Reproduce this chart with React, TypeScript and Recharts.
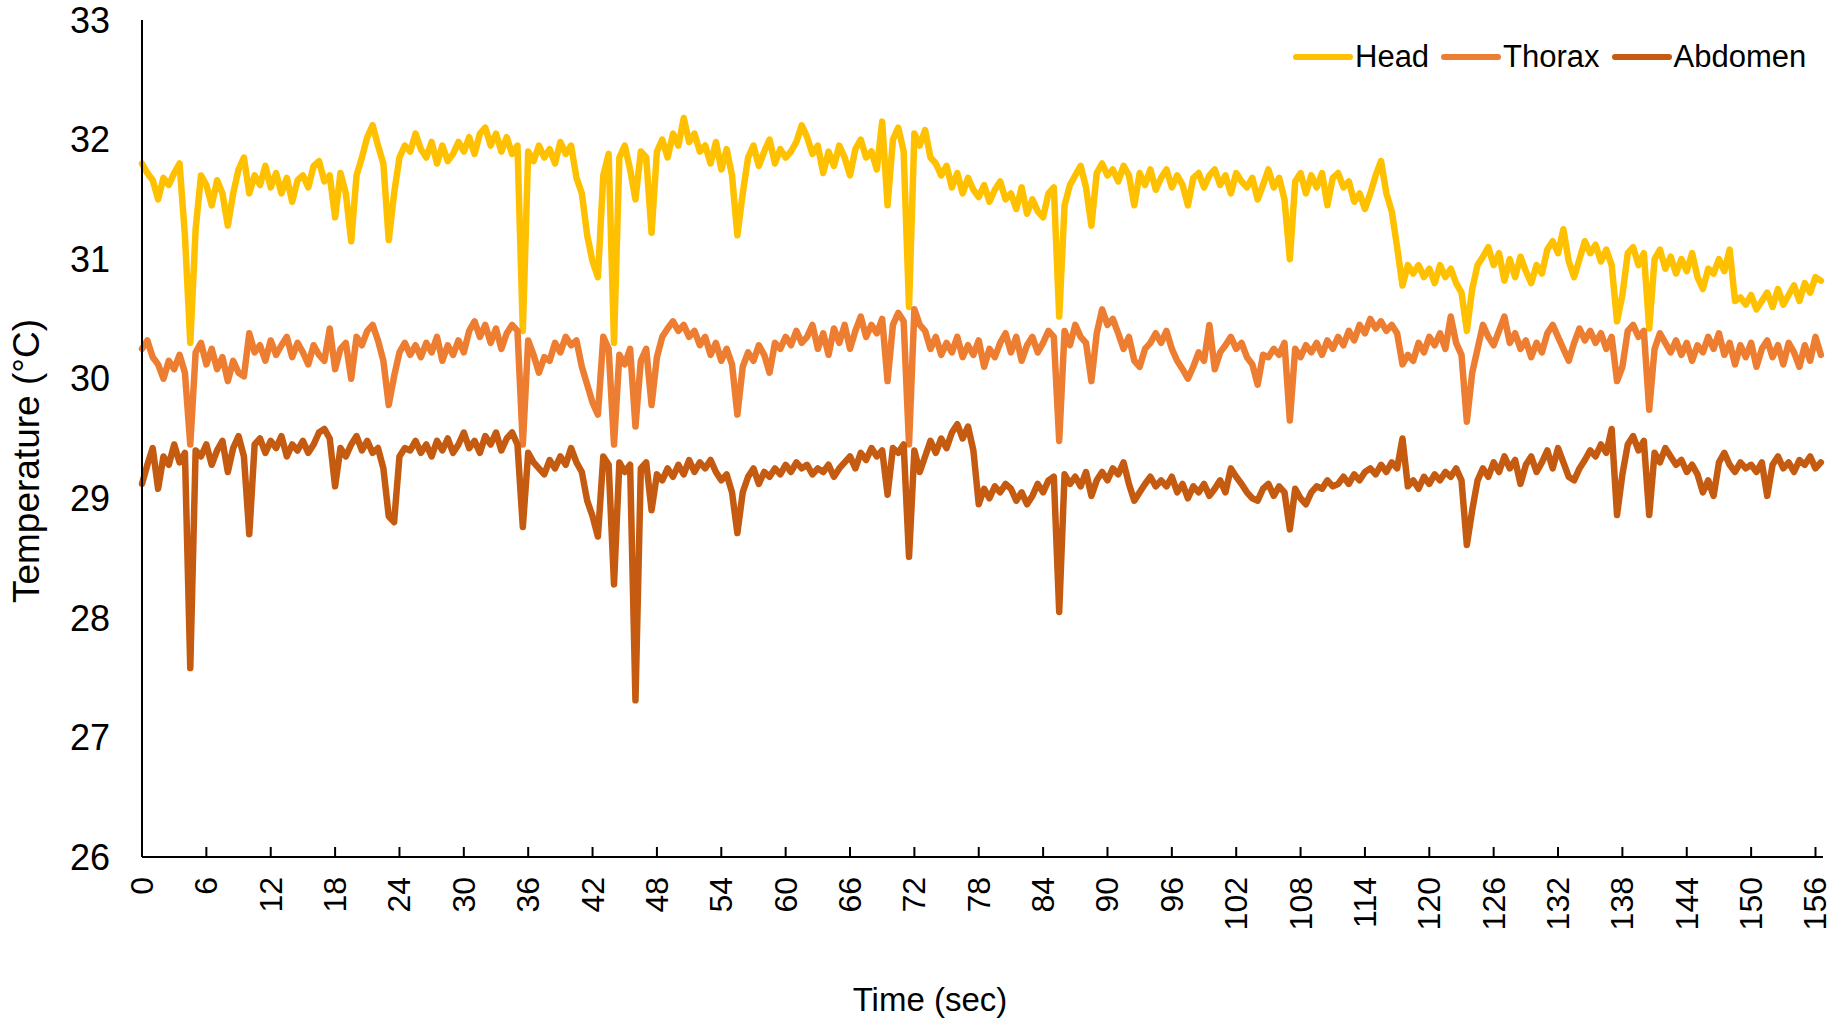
import React from 'react';
import { LineChart, Line, XAxis, YAxis, Legend } from 'recharts';

const FONT = '"Liberation Sans", Arial, Helvetica, sans-serif';

// samples every 0.5 s, values in °C
const SAMPLE_STEP = 0.5;

const head = [
  31.80, 31.72, 31.66, 31.50, 31.68, 31.62, 31.72, 31.80, 31.20, 30.30,
  31.25, 31.70, 31.62, 31.45, 31.66, 31.55, 31.28, 31.55, 31.75, 31.85,
  31.55, 31.70, 31.62, 31.78, 31.60, 31.72, 31.55, 31.68, 31.48, 31.66,
  31.70, 31.60, 31.78, 31.82, 31.65, 31.70, 31.35, 31.72, 31.55, 31.15,
  31.70, 31.85, 32.02, 32.12, 31.95, 31.80, 31.16, 31.55, 31.85, 31.95,
  31.90, 32.05, 31.92, 31.85, 31.98, 31.80, 31.95, 31.82, 31.88, 31.98,
  31.90, 32.02, 31.88, 32.05, 32.10, 31.95, 32.05, 31.90, 32.02, 31.88,
  31.95, 30.40, 31.90, 31.82, 31.95, 31.85, 31.92, 31.80, 31.98, 31.88,
  31.95, 31.68, 31.55, 31.20, 30.98, 30.85, 31.70, 31.88, 30.30, 31.85,
  31.95, 31.75, 31.50, 31.90, 31.85, 31.22, 31.90, 32.00, 31.85, 32.05,
  31.95, 32.18, 31.98, 32.05, 31.90, 31.95, 31.80, 31.98, 31.75, 31.92,
  31.70, 31.20, 31.55, 31.85, 31.95, 31.78, 31.90, 32.00, 31.80, 31.92,
  31.85, 31.90, 31.98, 32.12, 32.02, 31.88, 31.95, 31.72, 31.90, 31.78,
  31.95, 31.85, 31.70, 31.92, 32.00, 31.85, 31.90, 31.75, 32.15, 31.45,
  32.00, 32.10, 31.90, 30.60, 32.05, 31.95, 32.08, 31.85, 31.80, 31.70,
  31.78, 31.60, 31.72, 31.55, 31.68, 31.58, 31.52, 31.62, 31.48, 31.58,
  31.65, 31.50, 31.55, 31.42, 31.60, 31.38, 31.50, 31.40, 31.35, 31.55,
  31.60, 30.52, 31.45, 31.62, 31.70, 31.78, 31.60, 31.28, 31.72, 31.80,
  31.70, 31.75, 31.65, 31.78, 31.70, 31.45, 31.72, 31.62, 31.75, 31.58,
  31.68, 31.75, 31.60, 31.70, 31.62, 31.45, 31.68, 31.72, 31.60, 31.70,
  31.75, 31.62, 31.70, 31.55, 31.72, 31.65, 31.60, 31.68, 31.50, 31.62,
  31.75, 31.60, 31.68, 31.50, 31.00, 31.65, 31.72, 31.55, 31.70, 31.60,
  31.72, 31.45, 31.68, 31.72, 31.60, 31.65, 31.48, 31.55, 31.42, 31.55,
  31.70, 31.82, 31.55, 31.40, 31.10, 30.78, 30.95, 30.88, 30.95, 30.85,
  30.92, 30.80, 30.95, 30.85, 30.92, 30.80, 30.72, 30.40, 30.75, 30.95,
  31.02, 31.10, 30.95, 31.05, 30.82, 31.00, 30.85, 31.02, 30.90, 30.80,
  30.95, 30.88, 31.08, 31.15, 31.05, 31.25, 30.98, 30.85, 31.00, 31.15,
  31.05, 31.12, 30.98, 31.08, 30.95, 30.48, 30.70, 31.05, 31.10, 30.95,
  31.05, 30.42, 31.00, 31.08, 30.92, 31.02, 30.88, 31.00, 30.90, 31.05,
  30.85, 30.75, 30.92, 30.88, 31.00, 30.90, 31.08, 30.65, 30.68, 30.62,
  30.70, 30.58, 30.65, 30.72, 30.60, 30.75, 30.62, 30.70, 30.78, 30.65,
  30.80, 30.72, 30.85, 30.82,
];

const thorax = [
  30.25, 30.32, 30.18, 30.12, 30.00, 30.15, 30.08, 30.20, 30.05, 29.45,
  30.22, 30.30, 30.12, 30.25, 30.08, 30.18, 29.98, 30.15, 30.05, 30.02,
  30.38, 30.22, 30.28, 30.15, 30.32, 30.20, 30.28, 30.35, 30.18, 30.30,
  30.22, 30.12, 30.28, 30.20, 30.15, 30.42, 30.08, 30.25, 30.30, 30.00,
  30.35, 30.28, 30.40, 30.45, 30.32, 30.15, 29.78, 30.02, 30.22, 30.30,
  30.20, 30.28, 30.18, 30.30, 30.22, 30.35, 30.15, 30.28, 30.20, 30.32,
  30.22, 30.40, 30.48, 30.35, 30.45, 30.30, 30.42, 30.25, 30.38, 30.45,
  30.40, 29.45, 30.32, 30.20, 30.05, 30.18, 30.15, 30.30, 30.22, 30.35,
  30.28, 30.32, 30.10, 29.95, 29.80, 29.70, 30.35, 30.25, 29.45, 30.20,
  30.12, 30.25, 29.60, 30.15, 30.25, 29.78, 30.18, 30.35, 30.42, 30.48,
  30.40, 30.45, 30.35, 30.40, 30.28, 30.35, 30.20, 30.30, 30.15, 30.25,
  30.12, 29.70, 30.10, 30.22, 30.15, 30.28, 30.20, 30.05, 30.30, 30.25,
  30.35, 30.28, 30.40, 30.30, 30.35, 30.45, 30.25, 30.38, 30.20, 30.42,
  30.30, 30.45, 30.25, 30.40, 30.52, 30.35, 30.45, 30.38, 30.50, 29.98,
  30.45, 30.55, 30.48, 29.45, 30.58, 30.45, 30.40, 30.25, 30.35, 30.20,
  30.30, 30.22, 30.35, 30.18, 30.28, 30.20, 30.32, 30.10, 30.25, 30.18,
  30.30, 30.38, 30.22, 30.35, 30.15, 30.28, 30.35, 30.22, 30.30, 30.40,
  30.35, 29.48, 30.40, 30.28, 30.45, 30.35, 30.30, 29.98, 30.38, 30.58,
  30.45, 30.50, 30.38, 30.25, 30.35, 30.15, 30.10, 30.25, 30.30, 30.38,
  30.30, 30.40, 30.25, 30.15, 30.08, 30.00, 30.10, 30.22, 30.15, 30.45,
  30.08, 30.22, 30.28, 30.35, 30.25, 30.30, 30.18, 30.12, 29.95, 30.20,
  30.18, 30.25, 30.20, 30.30, 29.65, 30.25, 30.18, 30.28, 30.22, 30.30,
  30.20, 30.32, 30.25, 30.35, 30.28, 30.40, 30.32, 30.45, 30.38, 30.50,
  30.42, 30.48, 30.40, 30.45, 30.38, 30.12, 30.20, 30.15, 30.30, 30.22,
  30.35, 30.28, 30.38, 30.25, 30.52, 30.30, 30.20, 29.64, 30.05, 30.25,
  30.45, 30.35, 30.28, 30.40, 30.52, 30.30, 30.38, 30.25, 30.32, 30.18,
  30.30, 30.22, 30.38, 30.45, 30.35, 30.25, 30.15, 30.30, 30.42, 30.32,
  30.40, 30.30, 30.38, 30.25, 30.35, 29.98, 30.10, 30.40, 30.45, 30.35,
  30.40, 29.74, 30.25, 30.38, 30.30, 30.22, 30.32, 30.20, 30.30, 30.15,
  30.28, 30.22, 30.35, 30.25, 30.38, 30.20, 30.30, 30.12, 30.28, 30.18,
  30.30, 30.10, 30.25, 30.32, 30.18, 30.28, 30.12, 30.30, 30.22, 30.10,
  30.28, 30.15, 30.35, 30.20,
];

const abdomen = [
  29.12, 29.28, 29.42, 29.08, 29.35, 29.28, 29.45, 29.30, 29.38, 27.58,
  29.40, 29.35, 29.45, 29.28, 29.40, 29.48, 29.22, 29.42, 29.52, 29.35,
  28.70, 29.45, 29.50, 29.38, 29.48, 29.42, 29.52, 29.35, 29.45, 29.40,
  29.48, 29.38, 29.45, 29.55, 29.58, 29.50, 29.10, 29.42, 29.35, 29.45,
  29.52, 29.40, 29.48, 29.38, 29.42, 29.25, 28.85, 28.80, 29.35, 29.42,
  29.40, 29.48, 29.38, 29.45, 29.35, 29.48, 29.40, 29.50, 29.38, 29.45,
  29.55, 29.42, 29.48, 29.38, 29.52, 29.45, 29.55, 29.40, 29.50, 29.55,
  29.45, 28.76, 29.38, 29.30, 29.25, 29.20, 29.32, 29.25, 29.35, 29.28,
  29.42, 29.30, 29.22, 28.98, 28.85, 28.68, 29.35, 29.28, 28.28, 29.30,
  29.22, 29.28, 27.31, 29.25, 29.30, 28.90, 29.20, 29.15, 29.25, 29.18,
  29.28, 29.20, 29.32, 29.22, 29.30, 29.25, 29.32, 29.22, 29.15, 29.20,
  29.05, 28.71, 29.05, 29.18, 29.25, 29.12, 29.22, 29.18, 29.25, 29.20,
  29.28, 29.22, 29.30, 29.25, 29.28, 29.20, 29.25, 29.22, 29.28, 29.18,
  29.25, 29.30, 29.35, 29.25, 29.38, 29.32, 29.42, 29.35, 29.40, 29.03,
  29.42, 29.38, 29.45, 28.51, 29.40, 29.22, 29.35, 29.48, 29.38, 29.50,
  29.42, 29.55, 29.62, 29.50, 29.60, 29.40, 28.95, 29.08, 29.00, 29.10,
  29.05, 29.12, 29.08, 28.98, 29.05, 28.95, 29.02, 29.12, 29.05, 29.15,
  29.18, 28.05, 29.20, 29.12, 29.18, 29.10, 29.22, 29.02, 29.15, 29.22,
  29.15, 29.25, 29.20, 29.30, 29.12, 28.98, 29.05, 29.12, 29.18, 29.10,
  29.15, 29.10, 29.18, 29.05, 29.12, 29.00, 29.10, 29.05, 29.12, 29.02,
  29.08, 29.15, 29.05, 29.25, 29.18, 29.12, 29.05, 29.00, 28.98, 29.08,
  29.12, 29.02, 29.10, 29.05, 28.74, 29.08, 29.00, 28.95, 29.05, 29.10,
  29.08, 29.15, 29.10, 29.12, 29.18, 29.12, 29.20, 29.15, 29.22, 29.25,
  29.20, 29.28, 29.22, 29.30, 29.25, 29.50, 29.10, 29.15, 29.08, 29.18,
  29.12, 29.20, 29.15, 29.22, 29.18, 29.25, 29.15, 28.61, 28.90, 29.15,
  29.25, 29.18, 29.30, 29.22, 29.35, 29.25, 29.32, 29.12, 29.28, 29.35,
  29.22, 29.30, 29.40, 29.25, 29.42, 29.30, 29.18, 29.15, 29.25, 29.32,
  29.40, 29.35, 29.45, 29.38, 29.58, 28.86, 29.20, 29.45, 29.52, 29.40,
  29.48, 28.86, 29.38, 29.30, 29.42, 29.35, 29.28, 29.32, 29.22, 29.28,
  29.20, 29.05, 29.15, 29.02, 29.30, 29.38, 29.28, 29.22, 29.30, 29.25,
  29.28, 29.22, 29.30, 29.02, 29.28, 29.35, 29.25, 29.30, 29.22, 29.32,
  29.28, 29.35, 29.25, 29.30,
];

const timeTicks = [0, 6, 12, 18, 24, 30, 36, 42, 48, 54, 60, 66, 72, 78, 84, 90, 96, 102, 108, 114, 120, 126, 132, 138, 144, 150, 156];
const tempTicks = [26, 27, 28, 29, 30, 31, 32, 33];

const series = [
  { key: 'head', name: 'Head', color: '#FFC000' },
  { key: 'thorax', name: 'Thorax', color: '#ED7D31' },
  { key: 'abdomen', name: 'Abdomen', color: '#C55A11' },
];

const chartData = head.map((h, i) => ({
  time: i * SAMPLE_STEP,
  head: h,
  thorax: thorax[i],
  abdomen: abdomen[i],
}));

function TimeTick({ x, y, payload }: any) {
  return (
    <text
      x={x}
      y={y}
      transform={`rotate(-90, ${x}, ${y})`}
      textAnchor="end"
      dominantBaseline="central"
      fontSize={32}
      fontFamily={FONT}
      fill="#000"
    >
      {payload.value}
    </text>
  );
}

// keep series order (Recharts sorts the payload by name otherwise)
function renderLegend() {
  return (
    <div style={{ display: 'flex', alignItems: 'center', fontFamily: FONT, fontSize: 31, color: '#000' }}>
      {series.map((s) => (
        <div key={s.key} style={{ display: 'flex', alignItems: 'center', marginRight: 12 }}>
          <svg width={60} height={10}>
            <line x1={3} y1={5} x2={57} y2={5} stroke={s.color} strokeWidth={6} strokeLinecap="round" />
          </svg>
          <span style={{ marginLeft: 2, lineHeight: '36px' }}>{s.name}</span>
        </div>
      ))}
    </div>
  );
}

export default function App() {
  return (
    <div style={{ position: 'absolute', left: 0, top: 0, background: '#fff' }}>
      <LineChart
        width={1838}
        height={1019}
        data={chartData}
        margin={{ top: 20, right: 15, bottom: 0, left: 0 }}
      >
        <XAxis
          dataKey="time"
          type="number"
          domain={[0, 156.7]}
          ticks={timeTicks}
          interval={0}
          height={162}
          tickSize={-10}
          tickMargin={30}
          tick={<TimeTick />}
          axisLine={{ stroke: '#000', strokeWidth: 2 }}
          tickLine={{ stroke: '#000', strokeWidth: 2 }}
          label={{
            content: () => (
              <text x={930} y={999} textAnchor="middle" dominantBaseline="central" fontSize={33} fontFamily={FONT} fill="#000">
                Time (sec)
              </text>
            ),
          }}
        />
        <YAxis
          type="number"
          domain={[26, 33]}
          ticks={tempTicks}
          interval={0}
          width={142}
          tickLine={false}
          tickSize={6}
          tickMargin={26}
          tick={{ fontSize: 36, fill: '#000', fontFamily: FONT }}
          axisLine={{ stroke: '#000', strokeWidth: 2 }}
          label={{
            content: () => (
              <text
                x={26}
                y={461}
                transform="rotate(-90, 26, 461)"
                textAnchor="middle"
                dominantBaseline="central"
                fontSize={37}
                fontFamily={FONT}
                fill="#000"
              >
                Temperature (°C)
              </text>
            ),
          }}
        />
        <Legend
          layout="horizontal"
          verticalAlign="middle"
          align="center"
          wrapperStyle={{ top: 39, left: 1293, width: 545 }}
          content={renderLegend}
        />
        {series.map((s) => (
          <Line
            key={s.key}
            type="linear"
            dataKey={s.key}
            name={s.name}
            stroke={s.color}
            strokeWidth={6.5}
            strokeLinejoin="round"
            strokeLinecap="round"
            dot={false}
            activeDot={false}
            isAnimationActive={false}
          />
        ))}
      </LineChart>
    </div>
  );
}
